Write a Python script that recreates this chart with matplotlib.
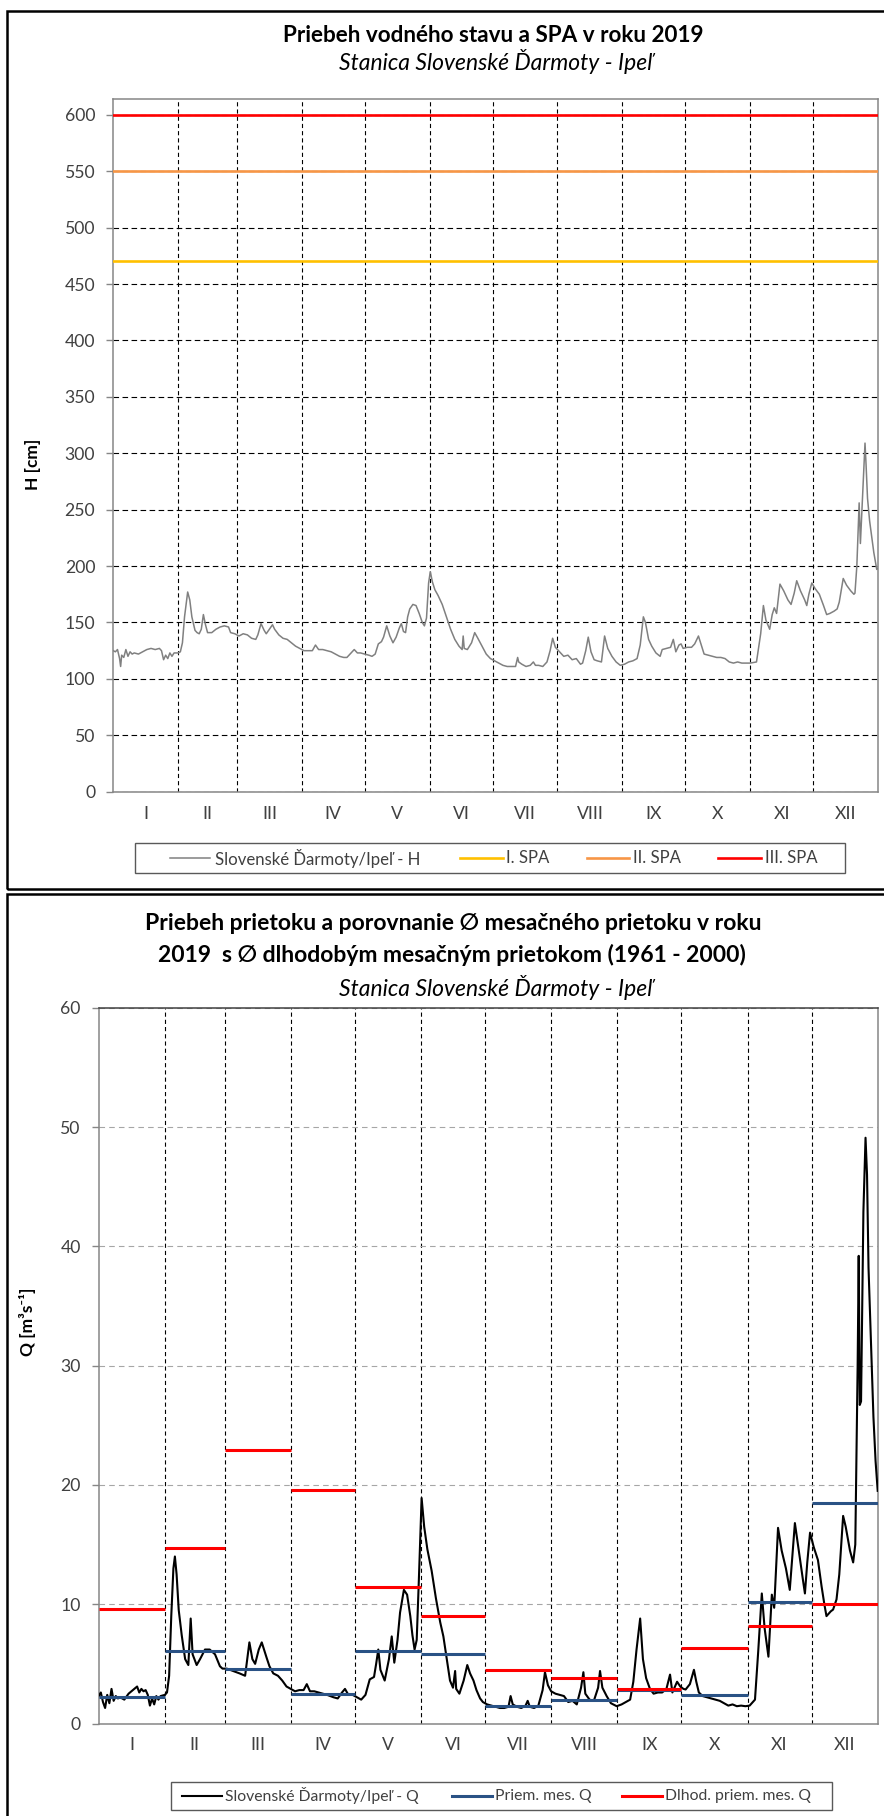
import numpy as np
import matplotlib.pyplot as plt
from matplotlib.patches import Rectangle
from matplotlib.lines import Line2D

plt.rcParams['font.family'] = ['Lato', 'DejaVu Sans']
plt.rcParams['lines.scale_dashes'] = False

# --- data ---
mesiace = ['I', 'II', 'III', 'IV', 'V', 'VI', 'VII', 'VIII', 'IX', 'X', 'XI', 'XII']
dni_v_mesiaci = [31, 28, 31, 30, 31, 30, 31, 31, 30, 31, 30, 31]

spa_1 = 470
spa_2 = 550
spa_3 = 600

# vodny stav H [cm], odcitane z grafu (den v roku, hodnota)
h_den = [0, 1, 2, 3, 3.5, 4, 5, 6, 7, 8, 9, 10, 12, 14, 16, 18, 20, 22, 23, 24, 25, 26, 27, 28, 29, 31,
         32, 33, 34, 35.5, 36.5, 37.5, 39, 40, 41, 42, 43, 44, 45, 47, 49, 51, 53, 55, 56, 58,
         60, 62, 64, 66, 68, 69, 70.5, 72, 73, 74.5, 76, 77, 79, 81, 83, 85, 87, 89,
         91, 93, 95, 96.5, 98, 100, 102, 104, 106, 108, 110, 111.5, 113, 115, 116.5, 118, 120, 122, 123.5,
         125, 126.5, 128, 129, 130.5, 132, 133.5, 135, 136.5, 137.5, 138.5, 139.5, 140.5, 141.5, 143,
         144.5, 146, 147.5, 148.5, 149.5, 150.5, 151.3, 152.3, 153.5, 155, 157, 159, 161, 163, 165,
         166.5, 167, 167.5, 169, 171, 172.5, 174, 176, 178, 180, 182, 184, 186, 188, 190, 192, 193, 193.5,
         195, 197, 199, 200.5, 201.5, 203, 205, 207, 208.5, 209.7, 211, 213, 215, 217, 219, 221, 223, 224,
         225.5, 226.7, 228, 229.5, 231, 233, 234, 234.5, 236, 238, 240, 242, 244, 246, 248, 250, 251.5,
         253, 254, 255.5, 257, 259, 261, 262, 264, 266, 267.3, 268.5, 270, 271, 272, 274, 276, 277.5,
         279.3, 280.5, 282, 284, 286, 288, 290, 292, 294, 296, 298, 300, 302, 304, 307, 309, 310.3,
         311.5, 313.3, 314.5, 315.5, 316.6, 318.2, 320, 322, 323.5, 325, 326.2, 328, 330, 331, 332,
         333.4, 335, 337, 339, 340.5, 342, 344, 345.5, 346.5, 348.4, 350, 352, 353.5, 354, 354.9, 356,
         356.6, 357.7, 358.8, 359.3, 360, 361, 362, 363, 364.4, 365]
h_cm = [125, 124, 126, 118, 111, 121, 119, 126, 120, 124, 122, 123, 122, 124, 126, 127, 126, 127, 125, 117, 121, 118, 123, 120, 123, 123,
        124, 132, 155, 177, 170, 155, 143, 141, 140, 144, 157, 148, 141, 141, 144, 146, 147, 146, 141, 140,
        138, 140, 139, 136, 135, 139, 149, 143, 140, 144, 148, 144, 139, 136, 135, 132, 129, 127,
        125, 125, 125, 130, 126, 126, 125, 124, 122, 120, 119, 119, 122, 126, 123, 123, 122, 121, 120,
        122, 131, 133, 137, 147, 138, 132, 137, 145, 149, 142, 141, 155, 162, 166,
        165, 158, 150, 147, 154, 185, 195, 186, 179, 174, 166, 155, 144, 135, 129,
        126, 138, 127, 126, 132, 141, 136, 129, 122, 118, 116, 114, 112, 111, 111, 111, 119, 115,
        113, 111, 112, 115, 112, 112, 111, 115, 125, 136, 128, 124, 120, 121, 117, 118, 113, 114,
        125, 137, 124, 117, 116, 115, 130, 138, 127, 120, 115, 112, 113, 115, 116, 118, 130,
        155, 150, 135, 129, 123, 120, 126, 127, 128, 135, 124, 130, 131, 127, 128, 128, 131,
        138, 131, 122, 121, 120, 119, 119, 118, 115, 114, 115, 114, 114, 114, 115, 140, 165,
        152, 144, 157, 163, 158, 184, 178, 170, 166, 176, 187, 178, 170, 165, 175,
        185, 180, 175, 165, 157, 158, 160, 162, 168, 189, 183, 178, 175, 176, 200, 256,
        220, 264, 309, 290, 260, 240, 226, 212, 197, 198]

# prietok Q [m3/s], odcitane z grafu
q_den = [0, 1, 2, 3, 4, 5, 6, 7, 8, 9, 10, 12, 14, 16, 18, 19, 20, 21, 22, 23, 24, 25, 26, 27, 28, 29, 31,
         32, 33, 34, 35, 35.7, 36.5, 37.5, 38.9, 40.5, 42, 43.1, 44, 45.9, 47.5, 49.8, 52, 54.5, 56.8, 58,
         60, 63, 66, 68.6, 70.6, 72, 73.3, 75, 76.4, 78.7, 80, 81.8, 84, 86, 88, 90,
         92, 94, 96, 97.5, 99, 101, 103, 105, 107, 110, 112, 114, 115.4, 117, 119, 121, 123,
         125, 127, 129, 130, 131, 132, 134, 136, 137.3, 138.5, 140, 141.2, 143, 144.5, 146, 147, 148, 149,
         150, 151.3, 152.5, 154, 156, 158, 160, 161.5, 163, 164.6, 166, 167, 167.5, 169, 171, 172.7, 174,
         175.6, 177, 178.7, 180, 182, 184, 186, 188, 190, 192, 193, 194, 196, 198, 200, 201, 202, 204, 206,
         208, 209.1, 210.5, 212, 214, 216, 218, 220, 222, 224, 226, 227.1, 228, 230, 232, 234, 234.9, 236,
         238, 240, 242.7, 245, 247, 249, 250.5, 252, 253.7, 255, 256.5, 258.3, 260, 262, 264, 266, 267.7,
         268.8, 270, 271, 272.5, 274, 275, 277, 278.9, 280, 281.2, 283, 285, 287, 289, 291, 293, 295, 297,
         299, 301, 303, 305, 307.5, 309, 310.7, 312, 313.8, 315.4, 316.5, 318.3, 320, 322, 323.8, 325,
         326.2, 328, 330, 330.9, 332, 333.3, 335, 337, 338.7, 340, 341, 343, 344.1, 345.7, 347, 348.8,
         350, 352, 353.5, 354.5, 355, 355.6, 356.1, 356.6, 357.2, 358.3, 359.3, 360, 360.7, 361.5, 363,
         364, 365]
q_m3s = [2.3, 2.6, 1.8, 1.3, 2.4, 1.7, 2.9, 1.9, 2.3, 2.1, 2.2, 2.0, 2.5, 2.8, 3.1, 2.6, 2.9, 2.7, 2.8, 2.4, 1.5, 2.1, 1.6, 2.3, 2.0, 2.3, 2.4,
         2.6, 4.0, 9.0, 13.0, 14.0, 12.5, 9.5, 7.4, 5.4, 4.9, 8.8, 5.8, 4.9, 5.4, 6.2, 6.2, 5.8, 4.8, 4.6,
         4.6, 4.4, 4.2, 4.0, 6.8, 5.4, 5.0, 6.2, 6.8, 5.5, 4.8, 4.2, 4.0, 3.6, 3.1, 2.9,
         2.7, 2.8, 2.8, 3.3, 2.7, 2.7, 2.6, 2.5, 2.4, 2.2, 2.1, 2.6, 2.9, 2.4, 2.4, 2.2, 2.0,
         2.4, 3.7, 3.9, 5.0, 6.2, 4.5, 3.6, 5.4, 7.3, 5.1, 7.0, 9.3, 11.2, 10.8, 9.0, 7.4, 6.2, 7.0,
         12.0, 18.9, 16.5, 14.6, 12.8, 10.5, 8.5, 7.3, 5.5, 3.6, 3.0, 4.4, 2.9, 2.5, 3.6, 4.9, 4.2,
         3.6, 2.8, 2.1, 1.8, 1.6, 1.5, 1.4, 1.3, 1.3, 1.4, 2.3, 1.6, 1.4, 1.3, 1.5, 1.9, 1.4, 1.3, 1.5,
         2.8, 4.3, 3.2, 2.7, 2.5, 2.4, 2.3, 1.8, 1.9, 1.6, 3.0, 4.3, 2.5, 2.0, 1.9, 3.0, 4.4, 3.0,
         2.3, 1.7, 1.45, 1.6, 1.8, 2.0, 3.5, 6.2, 8.8, 5.4, 3.8, 2.9, 2.5, 2.6, 2.6, 2.9, 4.1,
         2.6, 3.1, 3.5, 3.1, 2.9, 2.85, 3.3, 4.5, 3.5, 2.6, 2.3, 2.2, 2.1, 2.0, 1.9, 1.7, 1.5, 1.6,
         1.45, 1.5, 1.45, 1.5, 2.0, 6.0, 10.9, 8.0, 5.6, 10.8, 9.7, 16.4, 14.5, 13.0, 11.2, 14.0,
         16.8, 14.5, 12.0, 10.9, 13.5, 16.0, 14.8, 13.7, 11.5, 10.0, 9.0, 9.4, 9.55, 10.4, 12.5, 17.4,
         16.5, 14.5, 13.5, 15.0, 21.8, 30.0, 39.2, 26.7, 27.0, 42.9, 49.1, 46.0, 38.2, 33.8, 25.7,
         22.0, 19.5]

q_priem_2019 = [2.2, 6.1, 4.6, 2.5, 6.1, 5.8, 1.5, 2.0, 2.8, 2.35, 10.2, 18.5]
q_dlhod = [9.6, 14.7, 22.9, 19.6, 11.4, 9.0, 4.5, 3.8, 2.9, 6.3, 8.2, 10.0]

# --- figure ---
W, H = 884, 1816
fig = plt.figure(figsize=(W / 100, H / 100), dpi=100)


def px(x0, y0, x1, y1):
    # pixel box (from top-left) -> figure fraction [left, bottom, width, height]
    return [x0 / W, 1 - y1 / H, (x1 - x0) / W, (y1 - y0) / H]


def ramik(x0, y0, x1, y1, lw, ec):
    r = Rectangle((x0 / W, 1 - y1 / H), (x1 - x0) / W, (y1 - y0) / H,
                  transform=fig.transFigure, fill=False, lw=lw, ec=ec, zorder=0)
    fig.add_artist(r)


def legenda(polozky, y, fs):
    # polozky: (x ciary od, x ciary do, x textu, farba, hrubka, text) v pixeloch
    for x0, x1, xt, c, lw, txt in polozky:
        fig.add_artist(Line2D([x0 / W, x1 / W], [1 - y / H, 1 - y / H],
                              transform=fig.transFigure, color=c, lw=lw))
        fig.text(xt / W, 1 - y / H, txt, ha='left', va='center', fontsize=fs, color=text_c)


hranice = np.cumsum([0] + dni_v_mesiaci)
stredy = (hranice[:-1] + hranice[1:]) / 2

sivy = '#868686'
text_c = '#404040'


def uprav_os(ax, ymax, yticks, hgrid_c, hdash):
    ax.set_xlim(0, 365)
    ax.set_ylim(0, ymax)
    ax.set_yticks(yticks)
    ax.set_xticks(hranice[1:-1])
    ax.set_xticklabels([])
    ax.set_xticks(stredy, minor=True)
    ax.set_xticklabels(mesiace, minor=True)
    ax.tick_params(axis='x', which='both', length=0)
    ax.tick_params(axis='x', which='minor', pad=10, labelsize=12.7, labelcolor=text_c)
    ax.tick_params(axis='y', length=5, width=1, color=sivy, pad=8, labelsize=12.7, labelcolor=text_c)
    for s in ax.spines.values():
        s.set_color(sivy)
        s.set_linewidth(1.1)
    ax.grid(axis='x', which='major', color='black', ls=(0, (3, 2.2)), lw=0.8)
    ax.grid(axis='y', color=hgrid_c, ls=hdash, lw=0.8)


# ramiky okolo grafov
ramik(7, 10.7, 1000, 889, 1.8, 'black')
ramik(7, 894, 1000, 2000, 1.8, 'black')

# ---------------- graf 1: vodny stav ----------------
ax1 = fig.add_axes(px(113.3, 99, 878, 791.7))
uprav_os(ax1, 614, np.arange(0, 601, 50), 'black', (0, (4, 2.5)))
ax1.plot(h_den, h_cm, color='#808080', lw=1.1, zorder=3)
ax1.axhline(spa_1, color='#FFC000', lw=1.9, zorder=4)
ax1.axhline(spa_2, color='#F79646', lw=1.9, zorder=4)
ax1.axhline(spa_3, color='#FF0000', lw=1.9, zorder=4)

fig.text(493 / W, 1 - 35 / H, 'Priebeh vodného stavu a SPA v roku 2019', ha='center', va='center',
         fontsize=16.2, fontweight='bold', color='black')
fig.text(496 / W, 1 - 61 / H, 'Stanica Slovenské Ďarmoty - Ipeľ', ha='center', va='center',
         fontsize=16.5, style='italic', color='black')
fig.text(33 / W, 1 - 464 / H, 'H [cm]', rotation=90, ha='center', va='center',
         fontsize=12.5, fontweight='bold', color='black')

ramik(135, 843, 845, 873, 1.0, '#595959')
legenda([(170, 210, 215, '#808080', 1.1, 'Slovenské Ďarmoty/Ipeľ - H'),
         (460, 503, 506, '#FFC000', 1.9, 'I. SPA'),
         (587, 629, 633, '#F79646', 1.9, 'II. SPA'),
         (718, 761, 765, '#FF0000', 1.9, 'III. SPA')], 858, 12.1)

# ---------------- graf 2: prietok ----------------
ax2 = fig.add_axes(px(98.7, 1007.7, 877.7, 1723.5))
uprav_os(ax2, 60, np.arange(0, 61, 10), '#A6A6A6', (0, (4, 3)))
ax2.spines['top'].set_color('#404040')
ax2.plot(q_den, q_m3s, color='black', lw=1.5, zorder=3)
for i in range(12):
    ax2.hlines(q_priem_2019[i], hranice[i], hranice[i + 1], color='#2A5285', lw=2.2, zorder=4)
    ax2.hlines(q_dlhod[i], hranice[i], hranice[i + 1], color='#FF0000', lw=2.2, zorder=5)

fig.text(453 / W, 1 - 923 / H, 'Priebeh prietoku a porovnanie \u2205 mesačného prietoku v roku',
         ha='center', va='center', fontsize=16.5, fontweight='bold', color='black')
fig.text(452 / W, 1 - 955 / H, '2019  s \u2205 dlhodobým mesačným prietokom (1961 - 2000)',
         ha='center', va='center', fontsize=16.5, fontweight='bold', color='black')
fig.text(496 / W, 1 - 987 / H, 'Stanica Slovenské Ďarmoty - Ipeľ', ha='center', va='center',
         fontsize=16.5, style='italic', color='black')
fig.text(27 / W, 1 - 1322 / H, 'Q [m³s⁻¹]', rotation=90, ha='center', va='center',
         fontsize=12.5, fontweight='bold', color='black')

ramik(171, 1782, 832, 1810, 1.0, '#595959')
legenda([(182, 222, 225, 'black', 1.5, 'Slovenské Ďarmoty/Ipeľ - Q'),
         (452, 492, 495, '#2A5285', 2.2, 'Priem. mes. Q'),
         (622, 662, 665, '#FF0000', 2.2, 'Dlhod. priem. mes. Q')], 1796, 11.3)

fig.savefig('out.png', dpi=100)
